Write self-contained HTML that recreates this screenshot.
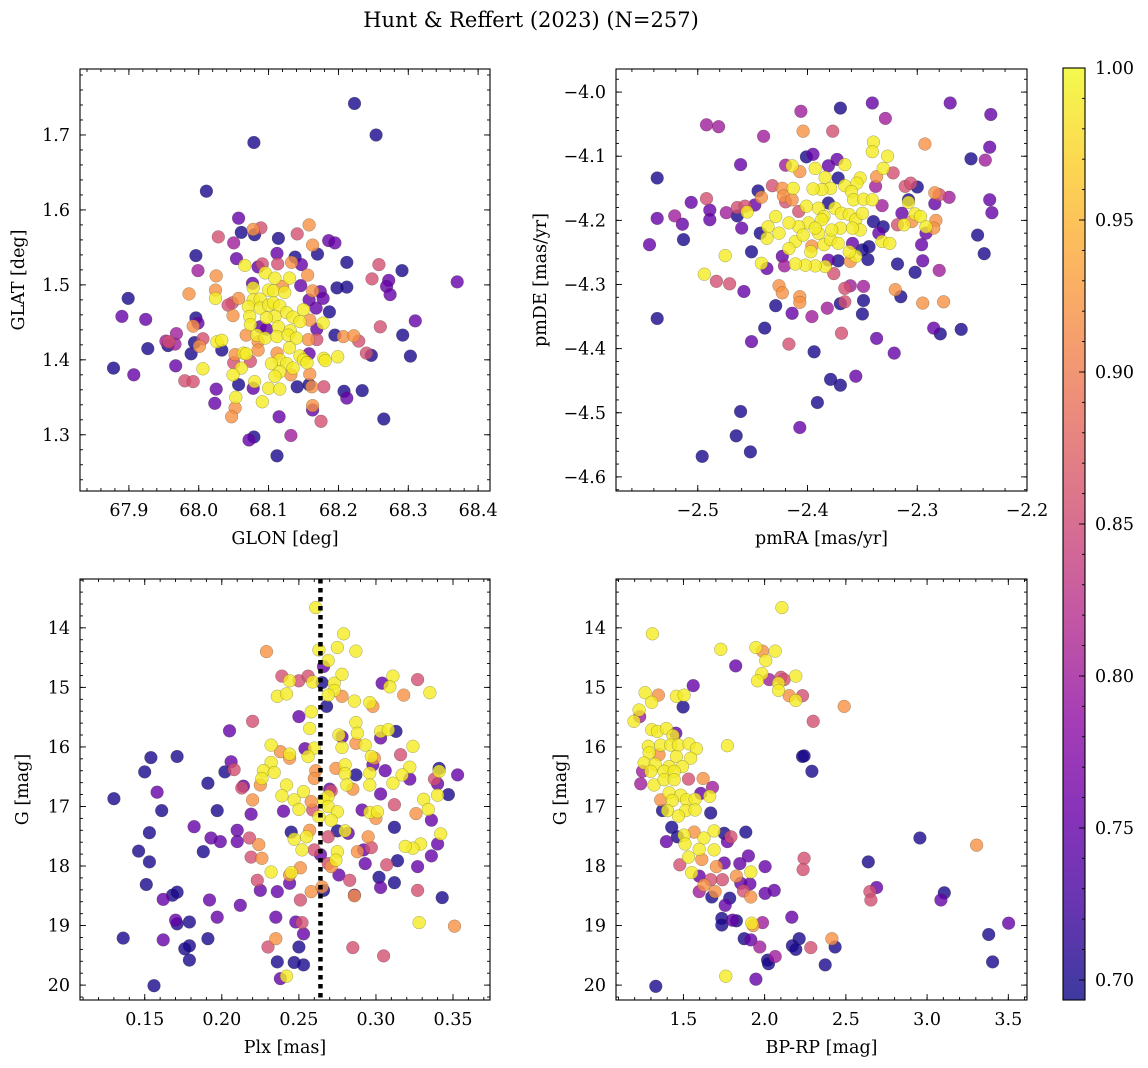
<!DOCTYPE html>
<html><head><meta charset="utf-8">
<style>
html,body{margin:0;padding:0;background:#fff;}
svg{display:block;font-family:"DejaVu Serif","Liberation Serif",serif;}
</style></head>
<body>
<svg id="fig" width="1148" height="1068" viewBox="0 0 1148 1068" xmlns="http://www.w3.org/2000/svg">
<defs>
<linearGradient id="plasma" x1="0" y1="1" x2="0" y2="0">
<stop offset="0" stop-color="#0d0887"/><stop offset="0.1" stop-color="#41049d"/><stop offset="0.2" stop-color="#6a00a8"/><stop offset="0.3" stop-color="#8f0da4"/><stop offset="0.4" stop-color="#b12a90"/><stop offset="0.5" stop-color="#cc4778"/><stop offset="0.6" stop-color="#e16462"/><stop offset="0.7" stop-color="#f2844b"/><stop offset="0.8" stop-color="#fca636"/><stop offset="0.9" stop-color="#fcce25"/><stop offset="1" stop-color="#f0f921"/>
</linearGradient>
</defs>
<text x="531" y="27" font-size="21" text-anchor="middle">Hunt &amp; Reffert (2023) (N=257)</text>
</svg>
<script>
const LEVEL = {B:0.70, P:0.75, M:0.80, R:0.855, O:0.92, Y:0.99};
// Panel 1: GLON / GLAT
const glon1 = [68.223,68.254,68.079,68.011,68.057,68.061,68.078,68.089,68.080,68.028,68.050,68.114,68.141,68.158,68.163,68.186,68.195,68.170,68.112,68.138,68.133,68.091,68.113,68.147,68.054,67.996,67.999,68.066,68.085,68.095,68.109,68.130,68.156,68.212,68.258,68.291,68.248,68.272,68.269,68.274,68.370,68.198,68.212,68.025,68.024,68.024,67.986,68.077,68.078,68.100,68.107,68.123,68.120,68.146,68.163,68.174,68.178,68.158,68.168,68.187,68.057,68.048,68.042,68.078,68.088,68.071,68.088,68.100,68.107,68.116,68.126,68.109,68.097,68.135,68.150,68.145,68.159,68.178,68.169,68.114,68.131,68.073,68.074,68.088,68.097,68.068,68.083,68.095,68.112,68.128,68.140,68.157,68.169,68.195,68.207,68.222,68.229,68.049,67.996,67.999,67.992,67.899,67.890,67.924,67.957,67.953,67.968,67.966,67.927,67.956,67.994,68.006,68.001,68.026,68.033,68.033,67.989,67.967,67.878,67.907,67.980,67.992,68.006,68.052,68.064,68.068,68.074,68.050,68.061,68.049,68.057,68.078,68.080,68.085,68.085,68.112,68.116,68.130,68.145,68.158,68.150,68.155,68.104,68.126,68.135,68.132,68.159,68.116,68.109,68.179,68.181,68.199,68.240,68.247,68.260,68.310,68.292,68.303,68.100,68.116,68.141,68.158,68.162,68.179,68.208,68.212,68.234,68.025,68.023,68.053,68.052,68.047,68.091,68.163,68.163,68.175,68.265,68.115,68.132,68.072,68.079,68.112];
const glat1 = [1.742,1.700,1.690,1.625,1.589,1.570,1.574,1.576,1.567,1.564,1.556,1.562,1.568,1.580,1.553,1.559,1.556,1.541,1.542,1.537,1.530,1.528,1.528,1.527,1.535,1.539,1.519,1.526,1.524,1.516,1.509,1.509,1.513,1.530,1.527,1.519,1.508,1.506,1.498,1.487,1.504,1.496,1.497,1.512,1.493,1.482,1.488,1.502,1.496,1.493,1.492,1.490,1.498,1.499,1.492,1.491,1.482,1.480,1.469,1.464,1.482,1.476,1.473,1.480,1.481,1.471,1.469,1.473,1.476,1.472,1.463,1.458,1.456,1.457,1.467,1.451,1.453,1.449,1.441,1.444,1.439,1.458,1.447,1.444,1.441,1.433,1.433,1.429,1.431,1.433,1.429,1.427,1.427,1.433,1.431,1.432,1.425,1.459,1.456,1.449,1.445,1.482,1.458,1.454,1.424,1.425,1.435,1.421,1.415,1.419,1.423,1.428,1.418,1.424,1.426,1.413,1.408,1.392,1.389,1.380,1.372,1.371,1.388,1.407,1.409,1.408,1.398,1.396,1.389,1.380,1.367,1.362,1.371,1.424,1.413,1.409,1.400,1.416,1.405,1.408,1.400,1.396,1.395,1.395,1.389,1.380,1.381,1.384,1.378,1.402,1.399,1.404,1.409,1.406,1.444,1.452,1.433,1.405,1.362,1.361,1.364,1.367,1.364,1.364,1.358,1.349,1.359,1.361,1.342,1.350,1.336,1.324,1.344,1.339,1.333,1.318,1.321,1.324,1.299,1.293,1.297,1.272];
const prob1 = "BBBBPBORBRMBROOPPBPBORRPPBMYPYYYOBRBRPPPPBBOOYOPYYYYOPOPPPPBORRYYYYYYYYYYYYYOYPYYYYPPOYYYYYORBOOROBPOBPPRMMMBBBROYYBBPBPRRYOYYRRYYBPYOOOYYYPYYYYYOOYYYYYRBRPBBYYBBORBPBPPYOOYOPRBPMPBB".split('').map(k => LEVEL[k]);
// Panel 2: pmRA / pmDE
const pmra2 = [-2.537,-2.537,-2.544,-2.521,-2.514,-2.513,-2.506,-2.492,-2.481,-2.492,-2.489,-2.489,-2.474,-2.464,-2.460,-2.464,-2.457,-2.455,-2.461,-2.440,-2.445,-2.442,-2.448,-2.432,-2.423,-2.420,-2.414,-2.407,-2.401,-2.395,-2.393,-2.384,-2.381,-2.373,-2.366,-2.372,-2.406,-2.404,-2.377,-2.370,-2.341,-2.329,-2.340,-2.341,-2.327,-2.331,-2.322,-2.337,-2.352,-2.355,-2.366,-2.379,-2.387,-2.395,-2.413,-2.422,-2.414,-2.420,-2.360,-2.358,-2.349,-2.341,-2.332,-2.338,-2.311,-2.306,-2.300,-2.308,-2.308,-2.293,-2.284,-2.280,-2.271,-2.284,-2.270,-2.233,-2.234,-2.251,-2.238,-2.234,-2.232,-2.245,-2.239,-2.314,-2.302,-2.297,-2.305,-2.283,-2.285,-2.292,-2.292,-2.312,-2.318,-2.296,-2.295,-2.280,-2.302,-2.318,-2.340,-2.331,-2.335,-2.332,-2.325,-2.344,-2.345,-2.350,-2.356,-2.361,-2.362,-2.359,-2.372,-2.381,-2.376,-2.384,-2.393,-2.402,-2.411,-2.397,-2.385,-2.379,-2.372,-2.390,-2.399,-2.408,-2.417,-2.429,-2.436,-2.437,-2.426,-2.411,-2.417,-2.423,-2.421,-2.437,-2.442,-2.451,-2.443,-2.408,-2.401,-2.390,-2.385,-2.381,-2.375,-2.369,-2.362,-2.356,-2.350,-2.352,-2.359,-2.370,-2.378,-2.387,-2.393,-2.404,-2.396,-2.475,-2.494,-2.483,-2.471,-2.458,-2.426,-2.423,-2.429,-2.407,-2.407,-2.414,-2.396,-2.382,-2.370,-2.366,-2.361,-2.366,-2.349,-2.349,-2.350,-2.320,-2.315,-2.295,-2.276,-2.285,-2.279,-2.260,-2.537,-2.439,-2.451,-2.417,-2.394,-2.369,-2.337,-2.321,-2.379,-2.370,-2.356,-2.391,-2.461,-2.407,-2.465,-2.452,-2.496];
const pmde2 = [-4.134,-4.197,-4.238,-4.193,-4.206,-4.230,-4.172,-4.051,-4.054,-4.166,-4.184,-4.199,-4.188,-4.193,-4.212,-4.180,-4.178,-4.187,-4.113,-4.069,-4.154,-4.164,-4.176,-4.146,-4.150,-4.114,-4.115,-4.124,-4.101,-4.097,-4.119,-4.133,-4.115,-4.105,-4.113,-4.134,-4.030,-4.061,-4.061,-4.025,-4.017,-4.041,-4.078,-4.093,-4.100,-4.119,-4.126,-4.132,-4.134,-4.142,-4.146,-4.150,-4.152,-4.151,-4.150,-4.162,-4.168,-4.171,-4.155,-4.168,-4.167,-4.168,-4.177,-4.147,-4.147,-4.142,-4.148,-4.168,-4.172,-4.081,-4.157,-4.160,-4.164,-4.174,-4.017,-4.035,-4.086,-4.104,-4.106,-4.168,-4.188,-4.223,-4.252,-4.189,-4.190,-4.194,-4.202,-4.200,-4.212,-4.220,-4.210,-4.207,-4.207,-4.238,-4.263,-4.278,-4.281,-4.268,-4.202,-4.210,-4.220,-4.233,-4.236,-4.241,-4.261,-4.246,-4.256,-4.264,-4.249,-4.236,-4.263,-4.262,-4.283,-4.272,-4.271,-4.270,-4.268,-4.249,-4.238,-4.230,-4.236,-4.220,-4.204,-4.210,-4.204,-4.194,-4.210,-4.228,-4.220,-4.233,-4.244,-4.256,-4.271,-4.275,-4.267,-4.249,-4.220,-4.186,-4.178,-4.181,-4.194,-4.173,-4.181,-4.189,-4.191,-4.199,-4.189,-4.215,-4.212,-4.212,-4.215,-4.199,-4.212,-4.223,-4.240,-4.255,-4.284,-4.295,-4.299,-4.311,-4.302,-4.313,-4.333,-4.319,-4.328,-4.345,-4.350,-4.337,-4.330,-4.327,-4.302,-4.306,-4.303,-4.325,-4.346,-4.308,-4.319,-4.329,-4.327,-4.368,-4.377,-4.370,-4.353,-4.368,-4.389,-4.393,-4.405,-4.376,-4.384,-4.407,-4.448,-4.457,-4.443,-4.484,-4.498,-4.523,-4.536,-4.561,-4.568];
const prob2 = "BPPMPBPMMRPPMBPRRYPMBOPROMYOBPYYPPYBMORBPMYYYYROYYYYYYYOORYYYYMMRRBBYOORMPPPPBMPPBBPYYOOOPYYRPPMBBBBPYYBBBYOYPBPRYYYYYYYYYYYYYYYYYYPMPYBBRYYYBYYYYYYYYYYYYOYYRRPOOBOOPMMBRMRMBBOBOOPBBBBPRBRPPBBPBBPBBBBB".split('').map(k => LEVEL[k]);
// Panel 3: Plx / G
const plx3 = [.261,.279,.275,.287,.263,.229,.269,.266,.239,.244,.250,.256,.259,.265,.273,.278,.304,.311,.309,.327,.335,.318,.236,.242,.273,.269,.278,.286,.296,.298,.268,.258,.250,.220,.205,.257,.287,.288,.276,.278,.303,.308,.313,.303,.232,.238,.244,.244,.254,.260,.256,.278,.287,.293,.297,.299,.324,.316,.154,.171,.206,.208,.202,.150,.232,.227,.234,.226,.225,.214,.213,.261,.260,.274,.280,.280,.287,.298,.296,.306,.322,.317,.311,.322,.341,.341,.338,.353,.340,.281,.285,.296,.270,.271,.242,.239,.247,.253,.258,.266,.269,.269,.275,.271,.263,.250,.259,.240,.220,.219,.197,.191,.130,.158,.161,.303,.331,.340,.347,.334,.312,.326,.336,.291,.296,.301,.300,.312,.342,.340,.329,.324,.319,.336,.327,.314,.307,.153,.182,.193,.199,.210,.210,.188,.146,.153,.218,.224,.219,.226,.245,.247,.257,.255,.260,.252,.264,.269,.275,.280,.282,.292,.297,.293,.288,.295,.275,.274,.271,.269,.232,.245,.251,.244,.276,.283,.302,.303,.312,.244,.223,.225,.236,.258,.265,.266,.251,.286,.286,.327,.343,.151,.162,.168,.171,.192,.212,.170,.171,.179,.197,.235,.248,.252,.253,.328,.351,.136,.162,.191,.176,.179,.179,.230,.235,.250,.285,.305,.236,.247,.253,.238,.242,.156];
const gmag3 = [13.66,14.10,14.33,14.39,14.37,14.40,14.55,14.65,14.81,14.89,14.89,14.81,14.91,14.92,14.93,14.78,14.93,14.81,14.99,14.87,15.09,15.13,15.15,15.11,15.05,15.13,15.15,15.23,15.255,15.32,15.32,15.41,15.49,15.57,15.73,15.69,15.59,15.77,15.80,15.83,15.74,15.71,15.74,15.85,15.97,16.08,16.12,16.19,16.03,16.02,16.16,16.01,15.94,15.97,16.16,16.19,15.99,16.13,16.18,16.16,16.25,16.38,16.42,16.42,16.26,16.40,16.43,16.53,16.64,16.66,16.69,16.40,16.53,16.36,16.30,16.45,16.47,16.30,16.44,16.40,16.34,16.47,16.61,16.54,16.36,16.41,16.54,16.47,16.62,16.64,16.71,16.64,16.71,16.74,16.64,16.82,16.89,16.75,16.92,16.89,16.83,17.00,17.09,17.23,17.17,17.05,17.06,17.08,16.89,17.13,17.07,16.61,16.87,16.76,17.07,16.79,16.88,16.81,16.80,17.05,16.97,17.12,17.23,17.06,17.10,17.09,17.20,17.35,17.46,17.63,17.63,17.70,17.67,17.83,18.01,17.91,17.98,17.44,17.34,17.53,17.59,17.40,17.59,17.76,17.75,17.93,17.53,17.64,17.85,17.87,17.43,17.55,17.40,17.51,17.73,17.73,17.81,17.51,17.41,17.41,17.45,17.73,17.69,17.96,17.76,17.51,17.76,17.90,18.01,17.96,18.10,18.11,18.03,18.15,18.15,18.24,18.19,18.36,18.28,18.29,18.24,18.41,18.43,18.43,18.35,18.41,18.57,18.49,18.50,18.41,18.53,18.31,18.56,18.49,18.44,18.57,18.66,18.91,18.97,18.94,18.86,18.86,18.94,18.95,19.14,18.95,19.01,19.21,19.24,19.22,19.39,19.34,19.58,19.36,19.22,19.36,19.37,19.51,19.61,19.62,19.66,19.89,19.85,20.01];
const prob3 = ("YYYYYOYPRY"+"RRYBYYPYYR"+"YOYYYYOYYO"+"BYPRPYYYYP"+"YYBPYOYOPY"+"YYOYYOYRBB"+"PRBBYYYYOP"+"ROOOYYBPYP"+"YYYPBYRPPY"+"OYPRYYYYOY"+"YYYYYYRPOP"+"BBBPBPYYBY"+"ROPPYYOBYP"+"YYYPPBRBPP"+"PPPBBBRORO"+"BYOYRYPRBY"+"PPRPOOYYOR"+"YYOOPRBPBP"+"RPPOOBRPOR"+"BBPBBPPPBB"+"PPPRPYOBPB"+"BBBROBRRBB"+"BPYB").split('').map(k => LEVEL[k]);
// Panel 4: BP-RP / G
const bprp4 = [2.106,1.309,1.730,1.946,1.987,2.065,2.007,1.822,1.560,1.264,1.346,1.305,1.457,1.504,1.498,1.983,1.956,2.028,2.100,2.120,2.085,2.085,2.192,2.151,2.233,2.192,2.490,2.299,1.227,1.231,1.196,1.305,1.340,1.395,1.453,1.436,1.284,1.360,1.422,1.469,1.535,1.580,1.289,1.350,1.457,1.545,1.258,1.326,1.412,1.494,1.248,1.299,1.381,1.443,1.771,2.233,2.243,2.291,1.621,1.237,1.319,1.381,1.443,1.531,1.679,1.607,1.662,1.412,1.484,1.360,1.432,1.519,1.572,1.371,1.402,1.514,1.572,1.469,1.668,1.428,1.395,1.463,1.504,1.566,1.627,1.689,1.751,1.792,1.771,1.884,1.510,1.597,1.689,1.531,1.613,1.478,1.703,1.751,1.847,1.900,2.003,1.915,1.551,1.597,1.668,1.740,1.826,1.853,1.909,1.627,1.597,1.695,1.675,1.785,1.757,1.870,1.915,2.003,2.059,2.243,2.237,1.736,1.736,1.802,1.826,1.921,1.929,1.987,2.167,1.874,1.915,1.970,2.213,2.171,2.192,2.284,2.018,2.024,2.065,2.373,2.414,2.434,1.761,1.946,1.330,2.638,2.689,2.648,2.654,2.956,3.305,3.106,3.085,3.502,3.379,3.403];
const gmag4 = [13.66,14.10,14.36,14.33,14.39,14.39,14.55,14.64,14.97,15.09,15.13,15.25,15.15,15.13,15.33,14.77,14.89,14.87,14.83,14.87,14.93,15.05,14.81,15.14,15.14,15.22,15.32,15.57,15.38,15.49,15.57,15.71,15.74,15.69,15.77,15.81,15.99,15.97,15.97,15.97,15.95,16.03,16.10,16.13,16.16,16.19,16.27,16.29,16.33,16.33,16.41,16.41,16.41,16.41,15.98,16.16,16.15,16.41,16.53,16.62,16.64,16.55,16.55,16.54,16.68,16.78,16.83,16.77,16.81,16.89,16.90,16.89,16.88,17.07,17.07,17.07,17.06,17.16,17.11,17.35,17.59,17.51,17.48,17.43,17.53,17.41,17.45,17.51,17.59,17.43,17.63,17.72,17.73,17.85,17.89,17.98,18.01,17.95,17.96,17.83,18.01,18.10,18.11,18.17,18.23,18.23,18.17,18.29,18.30,18.32,18.43,18.43,18.52,18.54,18.66,18.42,18.52,18.46,18.41,17.87,18.06,18.88,18.99,18.91,18.92,18.96,19.00,18.95,18.86,19.22,19.24,19.36,19.22,19.34,19.40,19.37,19.58,19.64,19.52,19.66,19.22,19.36,19.85,19.90,20.02,17.93,18.36,18.43,18.57,17.53,17.65,18.45,18.57,18.96,19.15,19.61];
const prob4 = "YYYYOYYPPYOYYYBYYMRRYYYORYORYMYYYYPYYYYYYYYOYYYYYYMYYYYBBBOMYYYRMPYYYOYYYBYYYYBBPBYOYYBRPBYYYYOROPPPPYYPRROPPOMOBBPROPPRRBBPBYOMPBPMBBBRBBMBOBYPBBPRRBOBPPBB".split('').map(k => LEVEL[k]);
const plxLine = 0.264;
// Tick labels
const xt1 = [67.9,68.0,68.1,68.2,68.3,68.4], yt1 = [1.3,1.4,1.5,1.6,1.7];
const xt2 = [-2.5,-2.4,-2.3,-2.2], yt2 = [-4.6,-4.5,-4.4,-4.3,-4.2,-4.1,-4.0];
const xt3 = [0.15,0.20,0.25,0.30,0.35], yt3 = [14,15,16,17,18,19,20];
const xt4 = [1.5,2.0,2.5,3.0,3.5], yt4 = [14,15,16,17,18,19,20];
const cbTicks = [0.70,0.75,0.80,0.85,0.90,0.95,1.00];
const VMIN = 0.6934, VMAX = 1.0;

const FS = 17.5;
const NS = "http://www.w3.org/2000/svg";
const svg = document.getElementById('fig');
function el(tag, attrs, parent){ const e=document.createElementNS(NS,tag); for(const k in attrs) e.setAttribute(k,attrs[k]); (parent||svg).appendChild(e); return e; }
const STOPS=[[13,8,135],[65,4,157],[106,0,168],[143,13,164],[177,42,144],[204,71,120],[225,100,98],[242,132,75],[252,166,54],[252,206,37],[240,249,33]];
function plasma(v){ let t=(v-VMIN)/(VMAX-VMIN); t=Math.max(0,Math.min(1,t))*10; const i=Math.min(9,Math.floor(t)), f=t-i; const a=STOPS[i], b=STOPS[i+1]; return `rgb(${a.map((c,j)=>Math.round(c+(b[j]-c)*f)).join(',')})`; }
function fmt(v,d){ const s=Math.abs(v).toFixed(d); return (v<0?'\u2212':'')+s; }

function panel(o){
  const g = el('g',{});
  
  
  const sx = v => o.x0 + (v-o.xd[0])/(o.xd[1]-o.xd[0])*(o.x1-o.x0);
  const sy = o.yinv ? (v => o.y0 + (v-o.yd[0])/(o.yd[1]-o.yd[0])*(o.y1-o.y0)) : (v => o.y1 - (v-o.yd[0])/(o.yd[1]-o.yd[0])*(o.y1-o.y0));
  const clip = el('clipPath',{id:o.name+'-clip'},g); el('rect',{x:o.x0,y:o.y0,width:o.x1-o.x0,height:o.y1-o.y0},clip);
  const pts = el('g',{'clip-path':`url(#${o.name}-clip)`},g);
  
  
  const n = Math.min(o.xs.length,o.ys.length,o.cs.length);
  const idx=[...Array(n).keys()].sort((a,b)=>o.cs[a]-o.cs[b]);
  for(const i of idx){
    const c = el('circle',{cx:sx(o.xs[i]).toFixed(1),cy:sy(o.ys[i]).toFixed(1),r:6.4,fill:plasma(o.cs[i]),'fill-opacity':0.8,stroke:'rgba(60,60,40,0.45)','stroke-width':0.5},pts);
    
    
  }
  if(o.vline!==undefined){
    const l = el('line',{x1:sx(o.vline),x2:sx(o.vline),y1:o.y0,y2:o.y1,stroke:'#000','stroke-width':4.5,'stroke-dasharray':'4.5 4.5'},g);
    
    
  }
  const tk = el('g',{stroke:'#000','stroke-width':0.9},g);
  const eps=1e-9;
  for(let v=Math.ceil(o.xd[0]/o.xm-eps)*o.xm; v<=o.xd[1]+eps; v+=o.xm){ const x=sx(v); if(x<o.x0+0.5||x>o.x1-0.5) continue; el('line',{x1:x,x2:x,y1:o.y1,y2:o.y1-3},tk); el('line',{x1:x,x2:x,y1:o.y0,y2:o.y0+3},tk); }
  const ylo=Math.min(...o.yd), yhi=Math.max(...o.yd);
  for(let v=Math.ceil(ylo/o.ym-eps)*o.ym; v<=yhi+eps; v+=o.ym){ const y=sy(v); if(y<o.y0+0.5||y>o.y1-0.5) continue; el('line',{x1:o.x0,x2:o.x0+3,y1:y,y2:y},tk); el('line',{x1:o.x1,x2:o.x1-3,y1:y,y2:y},tk); }
  for(const v of o.xt){ const x=sx(v); el('line',{x1:x,x2:x,y1:o.y1,y2:o.y1-6},tk); el('line',{x1:x,x2:x,y1:o.y0,y2:o.y0+6},tk);
    const t=el('text',{x:x,y:o.y1+25,'font-size':FS,'text-anchor':'middle'},g); t.textContent=fmt(v,o.xdp);
    
     }
  for(const v of o.yt){ const y=sy(v); el('line',{x1:o.x0,x2:o.x0+6,y1:y,y2:y},tk); el('line',{x1:o.x1,x2:o.x1-6,y1:y,y2:y},tk);
    const t=el('text',{x:o.x0-10,y:y+6,'font-size':FS,'text-anchor':'end'},g); t.textContent=fmt(v,o.ydp);
    
     }
  el('rect',{x:o.x0,y:o.y0,width:o.x1-o.x0,height:o.y1-o.y0,fill:'none',stroke:'#000','stroke-width':1.1},g);
  const xl=el('text',{x:(o.x0+o.x1)/2,y:o.y1+53,'font-size':FS,'text-anchor':'middle'},g); xl.textContent=o.xlabel;
  
  
  const yl=el('text',{x:0,y:0,'font-size':FS,'text-anchor':'middle',transform:`translate(${o.ylx},${(o.y0+o.y1)/2}) rotate(-90)`},g); yl.textContent=o.ylabel;
  
  
}

panel({name:'sky-position-panel',x0:80,x1:490,y0:69,y1:491,xd:[67.830,68.417],yd:[1.225,1.788],xs:glon1,ys:glat1,cs:prob1,xt:xt1,yt:yt1,xm:0.02,ym:0.02,xdp:1,ydp:1,xlabel:'GLON [deg]',ylabel:'GLAT [deg]',ylx:24});
panel({name:'proper-motion-panel',x0:616,x1:1027,y0:69,y1:491,xd:[-2.5745,-2.2],yd:[-4.622,-3.964],xs:pmra2,ys:pmde2,cs:prob2,xt:xt2,yt:yt2,xm:0.02,ym:0.02,xdp:1,ydp:1,xlabel:'pmRA [mas/yr]',ylabel:'pmDE [mas/yr]',ylx:546});
panel({name:'parallax-magnitude-panel',x0:80,x1:490,y0:579,y1:1000,xd:[0.108,0.374],yd:[13.18,20.25],yinv:true,xs:plx3,ys:gmag3,cs:prob3,xt:xt3,yt:yt3,xm:0.01,ym:0.2,xdp:2,ydp:0,xlabel:'Plx [mas]',ylabel:'G [mag]',ylx:28,vline:plxLine});
panel({name:'color-magnitude-panel',x0:616,x1:1027,y0:579,y1:1000,xd:[1.085,3.615],yd:[13.18,20.25],yinv:true,xs:bprp4,ys:gmag4,cs:prob4,xt:xt4,yt:yt4,xm:0.1,ym:0.2,xdp:1,ydp:0,xlabel:'BP-RP [mag]',ylabel:'G [mag]',ylx:566});

(function(){
  const x0=1063,x1=1085,y0=68,y1=1000;
  const g=el('g',{});
  
  
  const cy = v => y1 - (v-VMIN)/(VMAX-VMIN)*(y1-y0);
  el('rect',{x:x0,y:y0,width:x1-x0,height:y1-y0,fill:'url(#plasma)','fill-opacity':0.8},g);
  const tk=el('g',{stroke:'#000','stroke-width':0.9},g);
  for(let v=0.70; v<=1.0001; v+=0.01){ const y=cy(v); el('line',{x1:x1,x2:x1-3,y1:y,y2:y},tk); }
  for(const v of cbTicks){ const y=cy(v); el('line',{x1:x1,x2:x1-6,y1:y,y2:y},tk);
    const t=el('text',{x:x1+10,y:y+6,'font-size':FS},g); t.textContent=v.toFixed(2);
    
     }
  el('rect',{x:x0,y:y0,width:x1-x0,height:y1-y0,fill:'none',stroke:'#000','stroke-width':1.1},g);
})();
</script>
</body></html>
